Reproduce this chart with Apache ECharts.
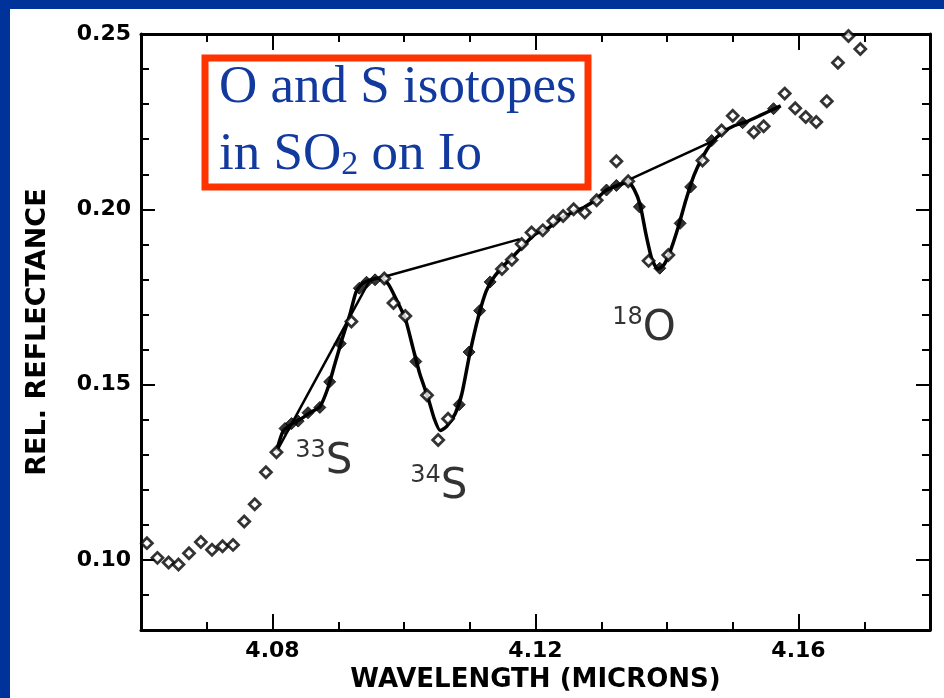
<!DOCTYPE html>
<html lang="en">
<head>
    <meta charset="UTF-8">
    <title>SO2 isotopes on Io</title>
    <style>
        body { margin: 0; background: #003399; }
        #frame { position: relative; width: 944px; height: 698px; background: #003399; }
        #chart { position: absolute; left: 10px; top: 9px; width: 934px; height: 689px; background: #fff; }
    </style>
    <script src="https://cdn.jsdelivr.net/npm/echarts@6/dist/echarts.min.js"></script>
</head>
<body>
<div id="frame"><div id="chart"></div></div>
<script>
// observed spectrum, open diamonds
var obsX = [4.0609, 4.0625, 4.0642, 4.0657, 4.0673, 4.0691, 4.0708, 4.0724, 4.0740, 4.0757, 4.0773, 4.0790, 4.0806,
            4.0920, 4.0970, 4.0984, 4.1002, 4.1035, 4.1052, 4.1067, 4.1149, 4.1164,
            4.1179, 4.1194, 4.1211, 4.1227, 4.1242, 4.1258, 4.1275, 4.1293, 4.1323, 4.1341,
            4.1372, 4.1402, 4.1454, 4.1483, 4.1500, 4.1532, 4.1547,
            4.1579, 4.1595, 4.1611, 4.1627, 4.1643, 4.1660, 4.1676, 4.1694];
var obsY = [0.1048, 0.1006, 0.0993, 0.0987, 0.1019, 0.1051, 0.1029, 0.1039, 0.1043, 0.1110, 0.1159, 0.1250, 0.1307,
            0.1680, 0.1803, 0.1733, 0.1696, 0.1470, 0.1342, 0.1403, 0.1830, 0.1856,
            0.1901, 0.1934, 0.1940, 0.1967, 0.1981, 0.2000, 0.1991, 0.2026, 0.2137, 0.2080,
            0.1853, 0.1870, 0.2139, 0.2225, 0.2267, 0.2220, 0.2237,
            0.2330, 0.2288, 0.2263, 0.2249, 0.2308, 0.2418, 0.2494, 0.2457];

// points inside the bands, filled diamonds
var bandX = [4.0819, 4.0829, 4.0839, 4.0854, 4.0872, 4.0887, 4.0903, 4.0932, 4.0943, 4.0956,
             4.1018, 4.1084, 4.1099, 4.1115, 4.1131,
             4.1308, 4.1323, 4.1358, 4.1389, 4.1420, 4.1436, 4.1468, 4.1515, 4.1562];
var bandY = [0.1375, 0.1389, 0.1396, 0.1420, 0.1435, 0.1508, 0.1617, 0.1775, 0.1792, 0.1799,
             0.1566, 0.1443, 0.1593, 0.1711, 0.1793,
             0.2055, 0.2068, 0.2007, 0.1832, 0.1960, 0.2064, 0.2196, 0.2247, 0.2287];

// fitted curve
var fitX = [4.0806, 4.0816, 4.0830, 4.0842, 4.0857, 4.0872, 4.0884, 4.0895, 4.0906, 4.0918, 4.0927, 4.0936, 4.0948,
            4.0963, 4.0976, 4.0988, 4.1002, 4.1014, 4.1024, 4.1037, 4.1046, 4.1055, 4.1065, 4.1078, 4.1088,
            4.1100, 4.1113, 4.1125, 4.1137, 4.1154, 4.1169, 4.1184, 4.1199, 4.1219, 4.1237, 4.1256, 4.1274,
            4.1292, 4.1307, 4.1325, 4.1341, 4.1350, 4.1359, 4.1368, 4.1377, 4.1386, 4.1395, 4.1405, 4.1417,
            4.1429, 4.1441, 4.1454, 4.1468, 4.1484, 4.1503, 4.1521, 4.1541, 4.1560, 4.1573];
var fitY = [0.1310, 0.1367, 0.1389, 0.1401, 0.1420, 0.1437, 0.1489, 0.1560, 0.1631, 0.1702, 0.1764, 0.1787, 0.1798,
            0.1804, 0.1787, 0.1744, 0.1688, 0.1602, 0.1531, 0.1460, 0.1403, 0.1369, 0.1381, 0.1418, 0.1474,
            0.1588, 0.1693, 0.1767, 0.1807, 0.1844, 0.1872, 0.1901, 0.1929, 0.1946, 0.1972, 0.1991, 0.2006,
            0.2028, 0.2054, 0.2068, 0.2077, 0.2057, 0.2014, 0.1929, 0.1858, 0.1830, 0.1841, 0.1881, 0.1949,
            0.2028, 0.2097, 0.2148, 0.2190, 0.2219, 0.2239, 0.2250, 0.2267, 0.2284, 0.2295];

// continuum lines under the three bands
var contAX = [4.0807, 4.0948], contAY = [0.1312, 0.1798];
var contBX = [4.0963, 4.1176], contBY = [0.1804, 0.1915];
var contCX = [4.1307, 4.1468], contCY = [0.2054, 0.2193];

// band labels
var isoMass = ['33', '34', '18'];
var isoElem = ['S', 'S', 'O'];
var isoX = [4.0878, 4.1053, 4.1365];
var isoY = [0.1282, 0.1212, 0.1662];

// axes
var xMinorTicks = [4.06, 4.07, 4.08, 4.09, 4.10, 4.11, 4.12, 4.13, 4.14, 4.15, 4.16, 4.17, 4.18];
var xMajorTicks = [4.08, 4.12, 4.16];
var yMinorTicks = [0.08, 0.09, 0.10, 0.11, 0.12, 0.13, 0.14, 0.15, 0.16, 0.17, 0.18, 0.19, 0.20, 0.21, 0.22, 0.23, 0.24, 0.25];
var yMajorTicks = [0.10, 0.15, 0.20, 0.25];

function zip(xs, ys) {
    return xs.map(function (x, i) { return [x, ys[i]]; });
}

var chart = echarts.init(document.getElementById('chart'));

var labelFont = { fontFamily: 'DejaVu Sans', fontWeight: 'bold', fontSize: 22, color: '#000' };
var black = { color: '#000', width: 3 };

function xAx(pos, ticks, len, showLine, labels) {
    return {
        type: 'value', position: pos, min: 4.06, max: 4.18,
        axisLine: { show: showLine, onZero: false, lineStyle: black },
        axisTick: { show: true, inside: true, length: len, customValues: ticks, lineStyle: { color: '#000', width: 2 } },
        axisLabel: labels ? Object.assign({ customValues: labels, margin: 10, formatter: function (v) { return v.toFixed(2); } }, labelFont) : { show: false },
        splitLine: { show: false }
    };
}
function yAx(pos, ticks, len, showLine, labels) {
    return {
        type: 'value', position: pos, min: 0.08, max: 0.25,
        axisLine: { show: showLine, onZero: false, lineStyle: black },
        axisTick: { show: true, inside: true, length: len, customValues: ticks, lineStyle: { color: '#000', width: 2 } },
        axisLabel: labels ? Object.assign({ customValues: labels, margin: 10, formatter: function (v) { return v.toFixed(2); } }, labelFont) : { show: false },
        splitLine: { show: false }
    };
}

var xBottom = xAx('bottom', xMinorTicks, 8, true, xMajorTicks);
xBottom.name = 'WAVELENGTH (MICRONS)';
xBottom.nameLocation = 'middle';
xBottom.nameGap = 35;
xBottom.nameTextStyle = { fontFamily: 'DejaVu Sans', fontWeight: 'bold', fontSize: 26, color: '#000' };

var yLeft = yAx('left', yMinorTicks, 8, true, yMajorTicks);
yLeft.name = 'REL. REFLECTANCE';
yLeft.nameLocation = 'middle';
yLeft.nameGap = 90;
yLeft.nameTextStyle = { fontFamily: 'DejaVu Sans', fontWeight: 'bold', fontSize: 27, color: '#000' };

var lineSeries = function (data, w) {
    return {
        type: 'line', data: data, symbol: 'none', xAxisIndex: 0, yAxisIndex: 0,
        lineStyle: { color: '#000', width: w }, z: 2, silent: true
    };
};

var option = {
    animation: false,
    grid: { left: 131, right: 14, top: 25, bottom: 66 },
    xAxis: [
        xBottom,
        xAx('bottom', xMajorTicks, 16, false, null),
        xAx('top', xMinorTicks, 8, true, null),
        xAx('top', xMajorTicks, 16, false, null)
    ],
    yAxis: [
        yLeft,
        yAx('left', yMajorTicks, 14, false, null),
        yAx('right', yMinorTicks, 8, true, null),
        yAx('right', yMajorTicks, 14, false, null)
    ],
    series: [
        lineSeries(zip(contAX, contAY), 2.5),
        lineSeries(zip(contBX, contBY), 2.5),
        lineSeries(zip(contCX, contCY), 2.5),
        Object.assign(lineSeries(zip(fitX, fitY), 3.5), { smooth: 0.2 }),
        {
            type: 'scatter', data: zip(obsX, obsY), symbol: 'diamond', symbolSize: 11, z: 3,
            itemStyle: { color: '#fff', borderColor: '#000', borderWidth: 2.8 }
        },
        {
            type: 'scatter', data: zip(bandX, bandY), symbol: 'diamond', symbolSize: 12, z: 4,
            itemStyle: { color: '#000', borderColor: '#000', borderWidth: 1 }
        },
        {
            type: 'scatter', symbolSize: 0, z: 5,
            data: isoX.map(function (x, i) { return { value: [x, isoY[i]], name: isoMass[i] + '|' + isoElem[i] }; }),
            label: {
                show: true, position: 'inside', color: '#000',
                formatter: function (p) {
                    var parts = p.name.split('|');
                    return '{m|' + parts[0] + '}{e|' + parts[1] + '}';
                },
                rich: {
                    m: { fontFamily: 'DejaVu Sans', fontSize: 24, color: '#000', verticalAlign: 'top', lineHeight: 44 },
                    e: { fontFamily: 'DejaVu Sans', fontSize: 42, color: '#000', verticalAlign: 'bottom', lineHeight: 44 }
                }
            }
        }
    ],
    graphic: [
        {
            type: 'rect', z: 100,
            shape: { x: 195, y: 49, width: 383, height: 129 },
            style: { fill: '#fff', stroke: '#ff3300', lineWidth: 7 }
        },
        {
            type: 'text', z: 101, x: 209, y: 79,
            style: { text: 'O and S isotopes', fontFamily: 'Liberation Serif', fontSize: 53, fill: '#123a9e', verticalAlign: 'middle' }
        },
        {
            type: 'text', z: 101, x: 209, y: 143,
            style: {
                text: '{a|in SO}{s|2}{a| on Io}', fill: '#123a9e', verticalAlign: 'middle',
                rich: {
                    a: { fontFamily: 'Liberation Serif', fontSize: 53, fill: '#123a9e', lineHeight: 60, verticalAlign: 'bottom' },
                    s: { fontFamily: 'Liberation Serif', fontSize: 34, fill: '#123a9e', lineHeight: 60, verticalAlign: 'bottom' }
                }
            }
        }
    ]
};

chart.setOption(option);
</script>
</body>
</html>
